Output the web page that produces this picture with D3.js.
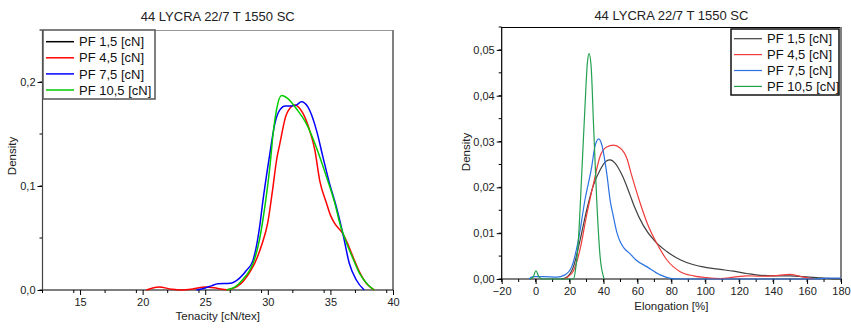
<!DOCTYPE html>
<html>
<head>
<meta charset="utf-8">
<script src="https://cdn.jsdelivr.net/npm/d3@7"></script>
<style>
	body { margin: 0; background: #fff; }
	svg { font-family: "Liberation Sans", Arial, sans-serif; }
</style>
</head>
<body>
<div id="viz"></div>
<script>
//data
var titleText = "44 LYCRA 22/7 T 1550 SC";
var seriesNames = ["PF 1,5 [cN]", "PF 4,5 [cN]", "PF 7,5 [cN]", "PF 10,5 [cN]"];

//tenacity densities [x, density]
var tenPF15 = []; // not visible in the picture
var tenPF45 = [[20.3,0],[21.3,0.003],[22.3,0.0008],[23,0],[24,0.001],[25,0.003],[26,0.0015],[26.7,0.0003],[27.5,0.003],[28,0.008],[28.5,0.016],[29,0.027],[29.5,0.043],[30,0.065],[30.4,0.098],[30.7,0.125],[30.95,0.140],[31.49,0.169],[32.15,0.178],[32.8,0.170],[33.3,0.155],[33.75,0.135],[34.15,0.105],[34.7,0.083],[35,0.072],[35.34,0.064],[36,0.054],[36.4,0.044],[36.8,0.032],[37.3,0.018],[37.87,0.0064],[38.5,0]];
var tenPF75 = [[24.3,0],[25,0.002],[25.5,0.004],[26,0.006],[27,0.0065],[27.6,0.01],[28.3,0.019],[28.8,0.028],[29.36,0.062],[29.6,0.085],[30.16,0.131],[30.56,0.160],[30.95,0.173],[31.4,0.177],[31.9,0.177],[32.3,0.178],[32.68,0.181],[33.2,0.176],[33.9,0.153],[34.4,0.128],[34.94,0.102],[35.47,0.080],[36,0.054],[36.5,0.026],[37.07,0.0096],[37.7,0]];
var tenPF105 = [[26.7,0],[27.5,0.004],[28,0.01],[28.5,0.018],[28.83,0.026],[29.36,0.050],[29.76,0.080],[30.16,0.118],[30.42,0.150],[30.69,0.173],[31.1,0.187],[31.6,0.184],[32.3,0.174],[33.08,0.160],[33.88,0.137],[34.68,0.109],[35.34,0.084],[35.8,0.062],[36.3,0.045],[36.67,0.034],[37.33,0.016],[38,0.005],[38.5,0]];

//elongation densities [x, density]
var elPF15 = [[15,0],[18.3,0.0004],[22.3,0.0027],[26.2,0.0085],[30.1,0.0151],[34.1,0.0205],[38,0.0238],[41.5,0.0257],[43.9,0.026],[46.8,0.0253],[50.8,0.0228],[55.7,0.0183],[58,0.0160],[63.6,0.0116],[70.4,0.0082],[77.3,0.006],[85.2,0.0042],[93.1,0.0031],[100.9,0.0025],[108.8,0.0021],[116.7,0.0017],[124.5,0.0012],[132.4,0.0008],[140.3,0.0007],[150.1,0.0007],[158,0.0005],[165.8,0.0003],[173.7,0.0001],[180,0]];
var elPF45 = [[17,0],[18.3,0.0003],[22.3,0.0018],[26.2,0.0065],[30.1,0.0140],[34.1,0.0208],[38,0.0268],[41.9,0.0288],[45.9,0.0292],[49.8,0.0286],[53.7,0.0264],[56.7,0.0225],[61.6,0.0166],[66.5,0.0115],[71.4,0.0078],[77.3,0.0042],[85.2,0.0016],[93.1,0.0007],[100.9,0.0003],[108.8,0.0001],[116.7,0.0004],[124.5,0.0007],[132.4,0.0006],[140.3,0.0007],[150.1,0.001],[158,0.0004],[163.9,0]];
var elPF75 = [[-4,0],[-1.3,0.0005],[4.6,0.0005],[12.4,0.0004],[17.3,0.0009],[21.3,0.0027],[25.2,0.0085],[29.1,0.0173],[33.1,0.0246],[35,0.029],[37.2,0.0306],[39,0.0293],[41.9,0.0231],[44,0.0170],[45.9,0.0135],[48,0.0100],[50,0.0080],[52,0.0068],[55.7,0.0055],[59,0.0042],[65.5,0.0027],[73.4,0.0009],[80.3,0.0001],[85,0],[165,0],[172,0.0002],[180,0.0002]];
var elPF105 = [[-3.3,0],[-1.5,0.0004],[0.2,0.0018],[2,0.0004],[4.2,0],[22.3,0],[23.5,0.002],[25.2,0.0085],[27.2,0.0231],[29.1,0.0377],[30.5,0.0472],[31.5,0.0492],[32.7,0.0465],[34.1,0.034],[36,0.0173],[38,0.0049],[40.4,0]];

//ticks
var tenXTicks = [15, 20, 25, 30, 35, 40];
var tenYTicks = [0, 0.1, 0.2];
var elXTicks = [-20, 0, 20, 40, 60, 80, 100, 120, 140, 160, 180];
var elYTicks = [0, 0.01, 0.02, 0.03, 0.04, 0.05];

var leftColors = ["#000000", "#ff0000", "#0000ff", "#00cc00"];
var rightColors = ["#404040", "#ef3b3b", "#2a72e0", "#22a050"];

var svg = d3.select("#viz").append("svg").attr("width", 851).attr("height", 328);

function commaFmt(digits) {
	var f = d3.format("." + digits + "f");
	return function(v) { return f(v).replace(".", ","); };
}

function drawPanel(o) {
	var x = d3.scaleLinear().domain(o.xDomain).range([o.left, o.right]);
	var y = d3.scaleLinear().domain(o.yDomain).range([o.bottom, o.top]);
	var g = svg.append("g");

	//frame top + right
	g.append("line").attr("x1", o.left).attr("x2", o.right).attr("y1", o.top + 0.5).attr("y2", o.top + 0.5)
		.attr("stroke", o.topColor).attr("stroke-width", 1);
	g.append("line").attr("x1", o.right).attr("x2", o.right).attr("y1", o.top).attr("y2", o.bottom)
		.attr("stroke", "#808080").attr("stroke-width", 2);

	//minor ticks
	var xMinor = d3.range(o.xDomain[0], o.xDomain[1] + 1e-9, o.xMinor);
	g.selectAll(".xm").data(xMinor).enter().append("line")
		.attr("x1", function(d) { return x(d); }).attr("x2", function(d) { return x(d); })
		.attr("y1", o.bottom).attr("y2", o.bottom + 3).attr("stroke", "#000");
	var yMinor = d3.range(o.yDomain[0], o.yDomain[1] + 1e-9, o.yMinor);
	g.selectAll(".ym").data(yMinor).enter().append("line")
		.attr("x1", o.left - 3).attr("x2", o.left)
		.attr("y1", function(d) { return y(d); }).attr("y2", function(d) { return y(d); }).attr("stroke", "#000");

	//axes
	var xAxis = d3.axisBottom(x).tickValues(o.xTicks).tickSize(5).tickPadding(3).tickFormat(d3.format(""));
	var gx = g.append("g").attr("transform", "translate(0," + o.bottom + ")").call(xAxis);
	gx.select(".domain").remove();
	gx.append("line").attr("x1", o.left).attr("x2", o.right).attr("stroke", "#000").attr("stroke-width", 1.2);
	var yAxis = d3.axisLeft(y).tickValues(o.yTicks).tickSize(5).tickPadding(2).tickFormat(commaFmt(o.yDigits));
	var gy = g.append("g").attr("transform", "translate(" + o.left + ",0)").call(yAxis);
	gy.select(".domain").remove();
	gy.append("line").attr("y1", o.top).attr("y2", o.bottom).attr("stroke", o.yAxisColor).attr("stroke-width", 1.2);
	g.selectAll(".tick text").attr("font-size", 11).attr("fill", "#222")
		.attr("font-family", "Liberation Sans, Arial, sans-serif");

	//curves
	var line = d3.line()
		.x(function(d) { return x(d[0]); })
		.y(function(d) { return y(d[1]); })
		.curve(d3.curveMonotoneX);
	o.series.forEach(function(s, i) {
		if (s.length == 0) return;
		g.append("path").attr("d", line(s)).attr("fill", "none")
			.attr("stroke", o.colors[i]).attr("stroke-width", o.lineWidth);
	});

	//titles
	g.append("text").attr("x", (o.left + o.right) / 2).attr("y", o.titleY)
		.attr("text-anchor", "middle").attr("font-size", 13).attr("fill", "#222").text(titleText);
	g.append("text").attr("x", (o.left + o.right) / 2).attr("y", o.xLabelY)
		.attr("text-anchor", "middle").attr("font-size", 11.5).attr("fill", "#222").text(o.xLabel);
	g.append("text").attr("transform", "translate(" + o.yLabelX + "," + o.yLabelY + ") rotate(-90)")
		.attr("text-anchor", "middle").attr("font-size", 11.5).attr("fill", "#222").text("Density");

	//legend
	var lg = g.append("g").attr("transform", "translate(" + o.legend[0] + "," + o.legend[1] + ")");
	lg.append("rect").attr("x", 0).attr("y", 0).attr("width", o.legend[2]).attr("height", o.legend[3])
		.attr("fill", "#fff").attr("stroke", o.legendStroke).attr("stroke-width", 1.5);
	seriesNames.forEach(function(n, i) {
		var ly = o.legendRow0 + i * o.legendStep;
		lg.append("line").attr("x1", 3).attr("x2", 3 + o.legendLine).attr("y1", ly).attr("y2", ly)
			.attr("stroke", o.colors[i]).attr("stroke-width", o.lineWidth);
		lg.append("text").attr("x", o.legendLine + 8).attr("y", ly).attr("dy", "0.36em")
			.attr("font-size", 13).attr("fill", "#111").text(n);
	});
}

drawPanel({
	left: 42.5, right: 393, top: 30, bottom: 290,
	xDomain: [12, 40], yDomain: [0, 0.25], xMinor: 2.5, yMinor: 0.05,
	xTicks: tenXTicks, yTicks: tenYTicks, yDigits: 1,
	series: [tenPF15, tenPF45, tenPF75, tenPF105], colors: leftColors, lineWidth: 1.5,
	topColor: "#999", yAxisColor: "#444",
	titleY: 20.5, xLabel: "Tenacity [cN/tex]", xLabelY: 320, yLabelX: 16, yLabelY: 156,
	legend: [43, 30, 112, 69], legendStroke: "#555", legendRow0: 11.7, legendStep: 16.1, legendLine: 28
});

drawPanel({
	left: 501.7, right: 841, top: 27, bottom: 279,
	xDomain: [-20, 180], yDomain: [0, 0.055], xMinor: 10, yMinor: 0.005,
	xTicks: elXTicks, yTicks: elYTicks, yDigits: 2,
	series: [elPF15, elPF45, elPF75, elPF105], colors: rightColors, lineWidth: 1.2,
	topColor: "#000", yAxisColor: "#000",
	titleY: 19.5, xLabel: "Elongation [%]", xLabelY: 310, yLabelX: 470, yLabelY: 152,
	legend: [731, 29, 108, 66], legendStroke: "#111", legendRow0: 9.7, legendStep: 15.9, legendLine: 28
});
</script>
</body>
</html>
